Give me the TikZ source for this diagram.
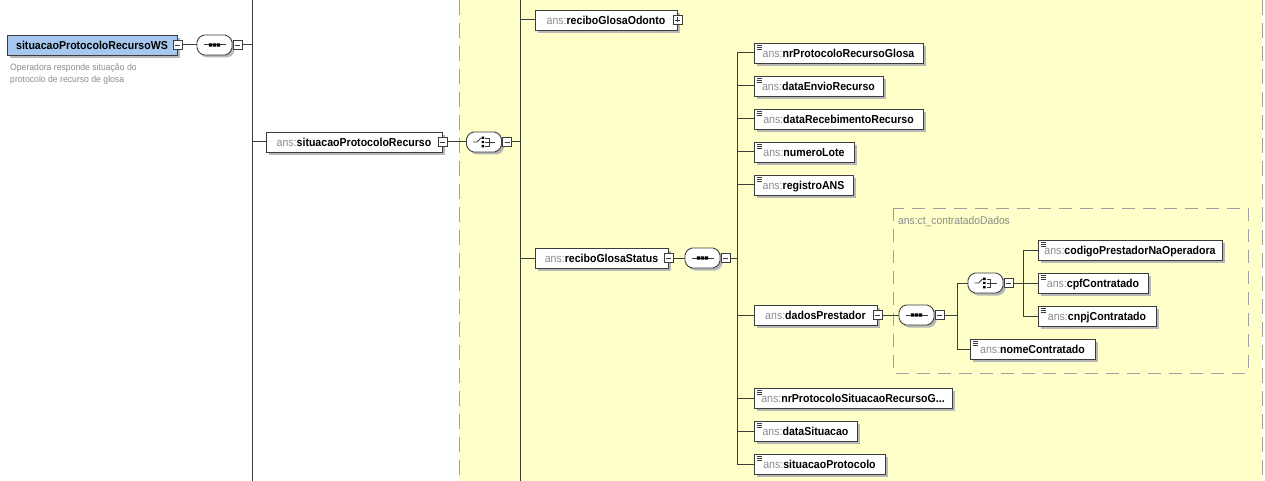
\documentclass[tikz,border=0pt]{standalone}
\usepackage{fontspec}
\setmainfont{Liberation Sans}[FakeStretch=0.92]
\newfontfamily\notefont{Liberation Sans}[FakeStretch=0.94]
\usetikzlibrary{shadows}
\definecolor{bgyellow}{HTML}{FFFFCA}
\definecolor{rootblue}{HTML}{A6C8EE}
\definecolor{nsgray}{HTML}{8C8C8C}
\definecolor{linegray}{HTML}{3C3C3C}
\definecolor{dashgray}{HTML}{A0A0A0}
\definecolor{shadowgray}{HTML}{B8B8B8}
\newcommand\nsp{{\mdseries\color{nsgray}ans:}}

\begin{document}
\begin{tikzpicture}[x=1pt,y=-1pt,
  every node/.style={inner sep=0pt},
  elem/.style={draw=linegray, line width=0.9pt, fill=white, minimum height=20pt,
    text height=9.5pt, text depth=0.5pt,
    font=\fontsize{11.5}{13}\selectfont\bfseries,
    drop shadow={shadow xshift=3pt,shadow yshift=-3pt,fill=shadowgray,opacity=1}},
  simple/.style={elem, path picture={
    \foreach \yy in {2.5,4.5,6.5}
      \draw[line width=0.8pt, linegray] ([shift={(2.5,\yy)}]path picture bounding box.north west) -- ++(5.5,0);}},
  btn/.style={draw=linegray, fill=white, minimum size=9pt, line width=0.8pt,
    path picture={\draw[line width=0.8pt, linegray]
      ([xshift=2pt]path picture bounding box.west) -- ([xshift=-2pt]path picture bounding box.east);}},
  plusbtn/.style={btn, path picture={\draw[line width=0.8pt, linegray]
      ([xshift=2pt]path picture bounding box.west) -- ([xshift=-2pt]path picture bounding box.east)
      ([yshift=2pt]path picture bounding box.south) -- ([yshift=-2pt]path picture bounding box.north);}},
  compo/.style={minimum width=35pt, minimum height=20pt},
  conn/.style={draw=linegray, line width=1pt},
  note/.style={anchor=west, align=left, text=nsgray, font=\notefont\fontsize{9.2}{12}\selectfont},
]
\useasboundingbox (0,0) rectangle (1265,481);

% content area of the complex type
\fill[bgyellow] (459,0) rectangle (1262,481);
\draw[dashgray, line width=1pt, dash pattern=on 15pt off 8pt] (459,0) -- (459,481);
\draw[dashgray, line width=1pt, dash pattern=on 15pt off 8pt] (1262,0) -- (1262,481);

% ct_contratadoDados group
\draw[dashgray, line width=1pt, dash pattern=on 13pt off 8pt] (893,208) rectangle (1248,373);
\node[note, font=\fontsize{11.2}{13}\selectfont] (grpL) at (898,222) {ans:ct\_contratadoDados};

% root element
\node[elem, fill=rootblue, minimum width=170pt] (root) at (92,45) {situacaoProtocoloRecursoWS};
\node[note] (desc) at (10,74) {Operadora responde situação do\\protocolo de recurso de glosa};

% second level
\node[elem, minimum width=176pt] (sPR) at (354,142) {\nsp situacaoProtocoloRecurso};

% choice children
\node[elem, minimum width=142pt] (rgo) at (606,20) {\nsp reciboGlosaOdonto};
\node[elem, minimum width=133pt] (rgs) at (601.5,258) {\nsp reciboGlosaStatus};

% reciboGlosaStatus children
\node[simple, minimum width=169pt] (nr)    at (838.5,53)  {\nsp nrProtocoloRecursoGlosa};
\node[simple, minimum width=129pt] (dEnv)  at (818.5,86)  {\nsp dataEnvioRecurso};
\node[simple, minimum width=169pt] (dRec)  at (838.5,119) {\nsp dataRecebimentoRecurso};
\node[simple, minimum width=100pt] (num)   at (804,152)   {\nsp numeroLote};
\node[simple, minimum width=99pt]  (reg)   at (803.5,185) {\nsp registroANS};
\node[elem,   minimum width=123pt] (dp)    at (815.5,315) {\nsp dadosPrestador};
\node[simple, minimum width=198pt] (nrSit) at (853,398)   {\nsp nrProtocoloSituacaoRecursoG...};
\node[simple, minimum width=103pt] (dSit)  at (805.5,431) {\nsp dataSituacao};
\node[simple, minimum width=131pt] (sitP)  at (819.5,464) {\nsp situacaoProtocolo};

% ct_contratadoDados children
\node[simple, minimum width=184pt] (cod)  at (1130,250)  {\nsp codigoPrestadorNaOperadora};
\node[simple, minimum width=110pt] (cpf)  at (1093,283)  {\nsp cpfContratado};
\node[simple, minimum width=118pt] (cnpj) at (1097,316)  {\nsp cnpjContratado};
\node[simple, minimum width=125pt] (nome) at (1032.5,349) {\nsp nomeContratado};

% compositors
\node[compo] (cseq1) at (214.5,45) {};
\node[compo] (cch1)  at (484,142) {};
\node[compo] (cseq2) at (702.5,258) {};
\node[compo] (cseq3) at (916.5,315) {};
\node[compo] (cch2)  at (985.5,283) {};

\foreach \c in {cseq1,cch1,cseq2,cseq3,cch2}{
  \fill[shadowgray, shift={(\c.center)}, xshift=2.5pt, yshift=-2.5pt, rounded corners=2pt]
    (-17.5,-5) -- (-12.5,-10) -- (12.5,-10) -- (17.5,-5) -- (17.5,5) -- (12.5,10) -- (-12.5,10) -- (-17.5,5) -- cycle;
  \draw[linegray, fill=white, line width=0.9pt, shift={(\c.center)}, rounded corners=2pt]
    (-17.5,-5) -- (-12.5,-10) -- (12.5,-10) -- (17.5,-5) -- (17.5,5) -- (12.5,10) -- (-12.5,10) -- (-17.5,5) -- cycle;
}
% sequence symbols
\foreach \c in {cseq1,cseq2,cseq3}{
  \draw[linegray, line width=1pt, shift={(\c.center)}] (-11,0) -- (11,0);
  \fill[black, shift={(\c.center)}]
    (-5.6,-1.6) rectangle (-2.4,1.6) (-1.6,-1.6) rectangle (1.6,1.6) (2.4,-1.6) rectangle (5.6,1.6);
}
% choice symbols
\foreach \c in {cch1,cch2}{
  \draw[linegray, line width=0.9pt, shift={(\c.center)}] (-11,0) -- (-7,0) -- (-3,-4);
  \fill[black, shift={(\c.center)}]
    (-2.3,-5.3) rectangle (0,-3) (-2.3,-1.15) rectangle (0,1.15) (-2.3,3) rectangle (0,5.3);
  \draw[linegray, line width=0.8pt, shift={(\c.center)}]
    (1,-4) -- (5,-4) -- (5,4) -- (1,4) (1,0) -- (11,0);
}

% expand buttons
\node[btn] (rootB) at (root.east) {};
\node[btn, anchor=west] (seq1B) at ([xshift=0.5pt]cseq1.east) {};
\node[btn] (sprB) at (sPR.east) {};
\node[btn, anchor=west] (ch1B) at ([xshift=0.5pt]cch1.east) {};
\node[plusbtn] (rgoB) at (rgo.east) {};
\node[btn] (rgsB) at (rgs.east) {};
\node[btn, anchor=west] (seq2B) at ([xshift=0.5pt]cseq2.east) {};
\node[btn] (dpB) at (dp.east) {};
\node[btn, anchor=west] (seq3B) at ([xshift=0.5pt]cseq3.east) {};
\node[btn, anchor=west] (ch2B) at ([xshift=0.5pt]cch2.east) {};

% branch trunks
\coordinate (t1) at (252,0);  \coordinate (t1b) at (252,481);
\coordinate (t2) at (520,0);  \coordinate (t2b) at (520,481);
\coordinate (t3) at (737,0);
\coordinate (t4) at (957,0);
\coordinate (t5) at (1023,0);

% connectors
\draw[conn] (rootB.east) -- (cseq1.west);
\draw[conn] (t1) -- (t1b);
\draw[conn] (seq1B.east) -- (seq1B.east -| t1);
\draw[conn] (t1 |- sPR.west) -- (sPR.west);

\draw[conn] (sprB.east) -- (cch1.west);
\draw[conn] (t2) -- (t2b);
\draw[conn] (ch1B.east) -- (ch1B.east -| t2);
\draw[conn] (t2 |- rgo.west) -- (rgo.west);
\draw[conn] (t2 |- rgs.west) -- (rgs.west);

\draw[conn] (rgsB.east) -- (cseq2.west);
\draw[conn] (seq2B.east) -- (seq2B.east -| t3);
\draw[conn] (t3 |- nr.west) -- (t3 |- sitP.west);
\foreach \n in {nr,dEnv,dRec,num,reg,dp,nrSit,dSit,sitP}
  \draw[conn] (t3 |- \n.west) -- (\n.west);

\draw[conn] (dpB.east) -- (cseq3.west);
\draw[conn] (seq3B.east) -- (seq3B.east -| t4);
\draw[conn] (t4 |- cch2.west) -- (t4 |- nome.west);
\draw[conn] (t4 |- cch2.west) -- (cch2.west);
\draw[conn] (t4 |- nome.west) -- (nome.west);

\draw[conn] (ch2B.east) -- (ch2B.east -| t5);
\draw[conn] (t5 |- cod.west) -- (t5 |- cnpj.west);
\foreach \n in {cod,cpf,cnpj}
  \draw[conn] (t5 |- \n.west) -- (\n.west);
\end{tikzpicture}
\end{document}
